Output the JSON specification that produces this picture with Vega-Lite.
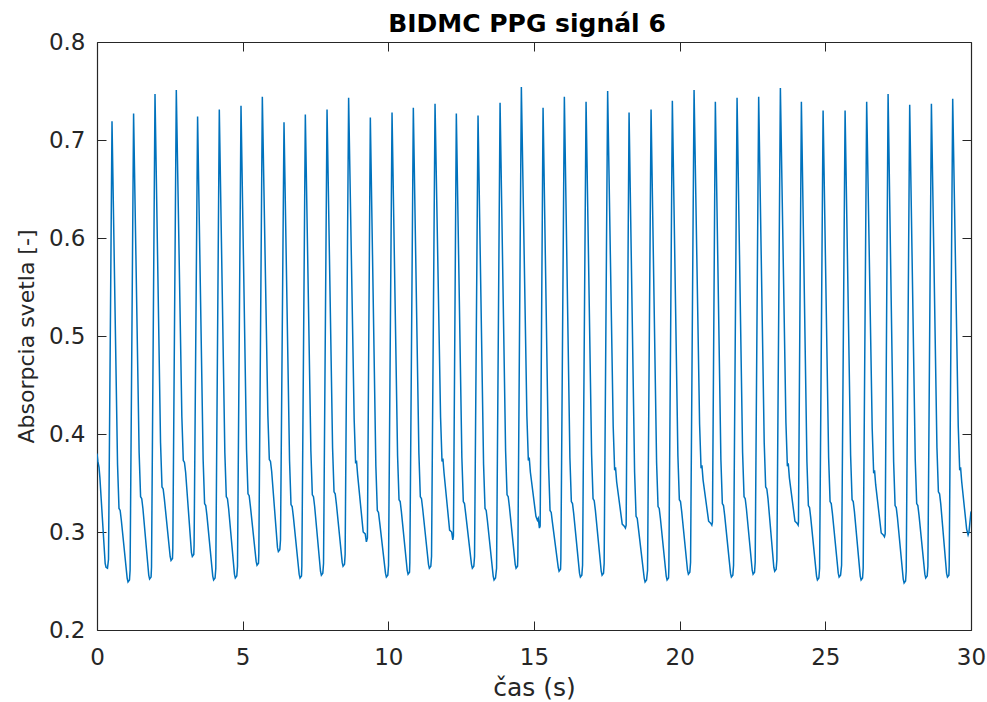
{
  "$schema": "https://vega.github.io/schema/vega-lite/v6.json",
  "width": 874,
  "height": 588,
  "autosize": "none",
  "padding": {"left": 97, "top": 42, "right": 16, "bottom": 72},
  "background": "white",
  "config": {"view": {"stroke": null}},
  "title": {"text": "BIDMC PPG signál 6", "font": "DejaVu Sans", "fontSize": 25, "fontWeight": "bold", "color": "#000000", "frame": "group", "anchor": "middle", "baseline": "alphabetic", "offset": 9, "dx": -7, "dy": 35},
  "data": {"values": [
    {"t":0,"v":0.380},{"t":0.03,"v":0.372},{"t":0.07,"v":0.366},{"t":0.10,"v":0.355},{"t":0.28,"v":0.268},{"t":0.31,"v":0.264},{"t":0.36,"v":0.263},{"t":0.395,"v":0.272},
    {"t":0.515,"v":0.719},{"t":0.705,"v":0.369},{"t":0.755,"v":0.324},{"t":0.795,"v":0.322},{"t":0.835,"v":0.312},{"t":1.035,"v":0.253},{"t":1.065,"v":0.249},{"t":1.115,"v":0.251},{"t":1.136,"v":0.261},
    {"t":1.256,"v":0.727},{"t":1.446,"v":0.381},{"t":1.496,"v":0.336},{"t":1.536,"v":0.334},{"t":1.576,"v":0.324},{"t":1.776,"v":0.256},{"t":1.806,"v":0.252},{"t":1.856,"v":0.254},{"t":1.871,"v":0.264},
    {"t":1.991,"v":0.747},{"t":2.181,"v":0.391},{"t":2.231,"v":0.346},{"t":2.271,"v":0.344},{"t":2.311,"v":0.334},{"t":2.511,"v":0.275},{"t":2.541,"v":0.271},{"t":2.591,"v":0.273},{"t":2.602,"v":0.283},
    {"t":2.722,"v":0.751},{"t":2.912,"v":0.418},{"t":2.962,"v":0.373},{"t":3.002,"v":0.371},{"t":3.042,"v":0.361},{"t":3.242,"v":0.279},{"t":3.272,"v":0.275},{"t":3.322,"v":0.277},{"t":3.333,"v":0.287},
    {"t":3.453,"v":0.724},{"t":3.643,"v":0.374},{"t":3.693,"v":0.329},{"t":3.733,"v":0.327},{"t":3.773,"v":0.317},{"t":3.973,"v":0.255},{"t":4.003,"v":0.251},{"t":4.053,"v":0.253},{"t":4.078,"v":0.263},
    {"t":4.198,"v":0.731},{"t":4.388,"v":0.381},{"t":4.438,"v":0.336},{"t":4.478,"v":0.334},{"t":4.518,"v":0.324},{"t":4.718,"v":0.257},{"t":4.748,"v":0.253},{"t":4.798,"v":0.255},{"t":4.823,"v":0.265},
    {"t":4.943,"v":0.735},{"t":5.133,"v":0.384},{"t":5.183,"v":0.339},{"t":5.223,"v":0.337},{"t":5.263,"v":0.327},{"t":5.463,"v":0.270},{"t":5.493,"v":0.266},{"t":5.543,"v":0.268},{"t":5.555,"v":0.278},
    {"t":5.675,"v":0.744},{"t":5.865,"v":0.419},{"t":5.915,"v":0.374},{"t":5.955,"v":0.372},{"t":5.995,"v":0.362},{"t":6.195,"v":0.284},{"t":6.225,"v":0.280},{"t":6.275,"v":0.282},{"t":6.299,"v":0.292},
    {"t":6.419,"v":0.718},{"t":6.609,"v":0.373},{"t":6.659,"v":0.328},{"t":6.699,"v":0.326},{"t":6.739,"v":0.316},{"t":6.939,"v":0.257},{"t":6.969,"v":0.253},{"t":7.019,"v":0.255},{"t":7.031,"v":0.265},
    {"t":7.151,"v":0.726},{"t":7.341,"v":0.383},{"t":7.391,"v":0.338},{"t":7.431,"v":0.336},{"t":7.471,"v":0.326},{"t":7.671,"v":0.260},{"t":7.701,"v":0.256},{"t":7.751,"v":0.258},{"t":7.776,"v":0.268},
    {"t":7.896,"v":0.731},{"t":8.086,"v":0.386},{"t":8.136,"v":0.341},{"t":8.176,"v":0.339},{"t":8.216,"v":0.329},{"t":8.416,"v":0.269},{"t":8.446,"v":0.265},{"t":8.496,"v":0.267},{"t":8.517,"v":0.277},
    {"t":8.637,"v":0.743},{"t":8.827,"v":0.415},{"t":8.877,"v":0.370},{"t":8.907,"v":0.373},{"t":8.947,"v":0.358},{"t":9.137,"v":0.300},{"t":9.207,"v":0.298},{"t":9.247,"v":0.290},{"t":9.282,"v":0.294},
    {"t":9.382,"v":0.723},{"t":9.572,"v":0.367},{"t":9.622,"v":0.322},{"t":9.662,"v":0.320},{"t":9.702,"v":0.310},{"t":9.902,"v":0.258},{"t":9.932,"v":0.254},{"t":9.982,"v":0.256},{"t":10.007,"v":0.266},
    {"t":10.127,"v":0.728},{"t":10.317,"v":0.378},{"t":10.367,"v":0.333},{"t":10.407,"v":0.331},{"t":10.447,"v":0.321},{"t":10.647,"v":0.261},{"t":10.677,"v":0.257},{"t":10.727,"v":0.259},{"t":10.738,"v":0.269},
    {"t":10.858,"v":0.733},{"t":11.048,"v":0.381},{"t":11.098,"v":0.336},{"t":11.138,"v":0.334},{"t":11.178,"v":0.324},{"t":11.378,"v":0.267},{"t":11.408,"v":0.263},{"t":11.458,"v":0.265},{"t":11.483,"v":0.275},
    {"t":11.603,"v":0.737},{"t":11.793,"v":0.417},{"t":11.843,"v":0.372},{"t":11.873,"v":0.375},{"t":11.913,"v":0.360},{"t":12.103,"v":0.302},{"t":12.173,"v":0.300},{"t":12.213,"v":0.292},{"t":12.234,"v":0.296},
    {"t":12.334,"v":0.727},{"t":12.524,"v":0.376},{"t":12.574,"v":0.331},{"t":12.614,"v":0.329},{"t":12.654,"v":0.319},{"t":12.854,"v":0.267},{"t":12.884,"v":0.263},{"t":12.934,"v":0.265},{"t":12.959,"v":0.275},
    {"t":13.079,"v":0.725},{"t":13.269,"v":0.369},{"t":13.319,"v":0.324},{"t":13.359,"v":0.322},{"t":13.399,"v":0.312},{"t":13.599,"v":0.255},{"t":13.629,"v":0.251},{"t":13.679,"v":0.253},{"t":13.715,"v":0.263},
    {"t":13.835,"v":0.738},{"t":14.025,"v":0.383},{"t":14.075,"v":0.338},{"t":14.115,"v":0.336},{"t":14.155,"v":0.326},{"t":14.355,"v":0.267},{"t":14.385,"v":0.263},{"t":14.435,"v":0.265},{"t":14.446,"v":0.275},
    {"t":14.566,"v":0.754},{"t":14.756,"v":0.418},{"t":14.806,"v":0.373},{"t":14.836,"v":0.376},{"t":14.876,"v":0.361},{"t":15.066,"v":0.316},{"t":15.116,"v":0.312},{"t":15.146,"v":0.314},{"t":15.186,"v":0.304},{"t":15.211,"v":0.306},
    {"t":15.311,"v":0.733},{"t":15.501,"v":0.367},{"t":15.551,"v":0.322},{"t":15.591,"v":0.320},{"t":15.631,"v":0.310},{"t":15.831,"v":0.264},{"t":15.861,"v":0.260},{"t":15.911,"v":0.262},{"t":15.922,"v":0.272},
    {"t":16.042,"v":0.744},{"t":16.232,"v":0.376},{"t":16.282,"v":0.331},{"t":16.322,"v":0.329},{"t":16.362,"v":0.319},{"t":16.562,"v":0.258},{"t":16.592,"v":0.254},{"t":16.642,"v":0.256},{"t":16.667,"v":0.266},
    {"t":16.787,"v":0.739},{"t":16.977,"v":0.379},{"t":17.027,"v":0.334},{"t":17.067,"v":0.332},{"t":17.107,"v":0.322},{"t":17.307,"v":0.260},{"t":17.337,"v":0.256},{"t":17.387,"v":0.258},{"t":17.408,"v":0.268},
    {"t":17.528,"v":0.750},{"t":17.718,"v":0.408},{"t":17.768,"v":0.363},{"t":17.798,"v":0.366},{"t":17.838,"v":0.351},{"t":18.028,"v":0.308},{"t":18.098,"v":0.306},{"t":18.138,"v":0.304},{"t":18.163,"v":0.307},
    {"t":18.263,"v":0.728},{"t":18.453,"v":0.361},{"t":18.503,"v":0.316},{"t":18.543,"v":0.314},{"t":18.583,"v":0.304},{"t":18.783,"v":0.253},{"t":18.813,"v":0.249},{"t":18.863,"v":0.251},{"t":18.898,"v":0.261},
    {"t":19.018,"v":0.731},{"t":19.208,"v":0.371},{"t":19.258,"v":0.326},{"t":19.298,"v":0.324},{"t":19.338,"v":0.314},{"t":19.538,"v":0.255},{"t":19.568,"v":0.251},{"t":19.618,"v":0.253},{"t":19.629,"v":0.263},
    {"t":19.749,"v":0.740},{"t":19.939,"v":0.378},{"t":19.989,"v":0.333},{"t":20.029,"v":0.331},{"t":20.069,"v":0.321},{"t":20.269,"v":0.261},{"t":20.299,"v":0.257},{"t":20.349,"v":0.259},{"t":20.374,"v":0.269},
    {"t":20.494,"v":0.751},{"t":20.684,"v":0.410},{"t":20.734,"v":0.365},{"t":20.764,"v":0.368},{"t":20.804,"v":0.353},{"t":20.994,"v":0.311},{"t":21.064,"v":0.309},{"t":21.104,"v":0.307},{"t":21.125,"v":0.310},
    {"t":21.225,"v":0.739},{"t":21.415,"v":0.374},{"t":21.465,"v":0.329},{"t":21.505,"v":0.327},{"t":21.545,"v":0.317},{"t":21.745,"v":0.258},{"t":21.775,"v":0.254},{"t":21.825,"v":0.256},{"t":21.850,"v":0.266},
    {"t":21.970,"v":0.743},{"t":22.160,"v":0.381},{"t":22.210,"v":0.336},{"t":22.250,"v":0.334},{"t":22.290,"v":0.324},{"t":22.490,"v":0.261},{"t":22.520,"v":0.257},{"t":22.570,"v":0.259},{"t":22.592,"v":0.269},
    {"t":22.712,"v":0.744},{"t":22.902,"v":0.391},{"t":22.952,"v":0.346},{"t":22.992,"v":0.344},{"t":23.032,"v":0.334},{"t":23.232,"v":0.264},{"t":23.262,"v":0.260},{"t":23.312,"v":0.262},{"t":23.337,"v":0.272},
    {"t":23.457,"v":0.753},{"t":23.647,"v":0.412},{"t":23.697,"v":0.367},{"t":23.727,"v":0.370},{"t":23.767,"v":0.355},{"t":23.957,"v":0.311},{"t":24.027,"v":0.309},{"t":24.067,"v":0.307},{"t":24.078,"v":0.310},
    {"t":24.178,"v":0.739},{"t":24.368,"v":0.372},{"t":24.418,"v":0.327},{"t":24.458,"v":0.325},{"t":24.498,"v":0.315},{"t":24.698,"v":0.255},{"t":24.728,"v":0.251},{"t":24.778,"v":0.253},{"t":24.803,"v":0.263},
    {"t":24.923,"v":0.730},{"t":25.113,"v":0.376},{"t":25.163,"v":0.331},{"t":25.203,"v":0.329},{"t":25.243,"v":0.319},{"t":25.443,"v":0.258},{"t":25.473,"v":0.254},{"t":25.523,"v":0.256},{"t":25.558,"v":0.266},
    {"t":25.678,"v":0.730},{"t":25.868,"v":0.378},{"t":25.918,"v":0.333},{"t":25.958,"v":0.331},{"t":25.998,"v":0.321},{"t":26.198,"v":0.255},{"t":26.228,"v":0.251},{"t":26.278,"v":0.253},{"t":26.299,"v":0.263},
    {"t":26.419,"v":0.739},{"t":26.609,"v":0.405},{"t":26.659,"v":0.360},{"t":26.689,"v":0.363},{"t":26.729,"v":0.348},{"t":26.919,"v":0.299},{"t":26.989,"v":0.297},{"t":27.029,"v":0.295},{"t":27.054,"v":0.298},
    {"t":27.154,"v":0.747},{"t":27.344,"v":0.372},{"t":27.394,"v":0.327},{"t":27.434,"v":0.325},{"t":27.474,"v":0.315},{"t":27.674,"v":0.252},{"t":27.704,"v":0.248},{"t":27.754,"v":0.250},{"t":27.776,"v":0.260},
    {"t":27.896,"v":0.736},{"t":28.086,"v":0.374},{"t":28.136,"v":0.329},{"t":28.176,"v":0.327},{"t":28.216,"v":0.317},{"t":28.416,"v":0.257},{"t":28.446,"v":0.253},{"t":28.496,"v":0.255},{"t":28.521,"v":0.265},
    {"t":28.641,"v":0.737},{"t":28.831,"v":0.386},{"t":28.881,"v":0.341},{"t":28.921,"v":0.339},{"t":28.961,"v":0.329},{"t":29.161,"v":0.258},{"t":29.191,"v":0.254},{"t":29.241,"v":0.256},{"t":29.252,"v":0.266},
    {"t":29.372,"v":0.742},{"t":29.562,"v":0.408},{"t":29.612,"v":0.363},{"t":29.642,"v":0.366},{"t":29.682,"v":0.351},{"t":29.850,"v":0.303},{"t":29.900,"v":0.297},{"t":29.930,"v":0.300},{"t":30.000,"v":0.321}
  ]},
  "layer": [
    {
      "mark": {"type": "line", "color": "#0072BD", "strokeWidth": 1.5, "clip": true},
      "encoding": {
        "x": {"field": "t", "type": "quantitative",
              "scale": {"domain": [0, 30], "nice": false, "zero": false},
              "axis": {"orient": "bottom", "values": [0,5,10,15,20,25,30], "format": "d", "title": "čas (s)",
                       "grid": false, "domainColor": "#262626", "domainWidth": 1.2, "tickColor": "#262626", "tickSize": -9, "tickWidth": 1,
                       "labelFont": "DejaVu Sans", "labelFontSize": 23, "labelColor": "#262626", "labelPadding": 25, "labelFlush": false, "labelOverlap": false,
                       "titleFont": "DejaVu Sans", "titleFontSize": 25, "titleFontWeight": "normal", "titleColor": "#262626",
                       "titleX": 437, "titleY": 65, "titleBaseline": "alphabetic", "titleAnchor": "middle", "titleAlign": "center"}},
        "y": {"field": "v", "type": "quantitative",
              "scale": {"domain": [0.2, 0.8], "nice": false, "zero": false},
              "axis": {"orient": "left", "values": [0.2,0.3,0.4,0.5,0.6,0.7,0.8], "format": ".1f", "title": "Absorpcia svetla [-]",
                       "grid": false, "domainColor": "#262626", "domainWidth": 1.2, "tickColor": "#262626", "tickSize": -9, "tickWidth": 1,
                       "labelFont": "DejaVu Sans", "labelFontSize": 23, "labelColor": "#262626", "labelPadding": 21, "labelFlush": false, "labelOverlap": false,
                       "titleFont": "DejaVu Sans", "titleFontSize": 22, "titleFontWeight": "normal", "titleColor": "#262626",
                       "titleX": -64, "titleY": 294, "titleAngle": -90, "titleBaseline": "alphabetic", "titleAlign": "center"}}
      }
    },
    {
      "mark": {"type": "line", "strokeOpacity": 0},
      "encoding": {
        "x": {"field": "t", "type": "quantitative",
              "axis": {"orient": "top", "values": [0,5,10,15,20,25,30], "labels": false, "title": null, "grid": false, "minExtent": 0, "maxExtent": 0,
                       "domainColor": "#262626", "domainWidth": 1.2, "tickColor": "#262626", "tickSize": -9, "tickWidth": 1}},
        "y": {"field": "v", "type": "quantitative",
              "axis": {"orient": "right", "values": [0.2,0.3,0.4,0.5,0.6,0.7,0.8], "labels": false, "title": null, "grid": false, "minExtent": 0, "maxExtent": 0,
                       "domainColor": "#262626", "domainWidth": 1.2, "tickColor": "#262626", "tickSize": -9, "tickWidth": 1}}
      }
    }
  ],
  "resolve": {"axis": {"x": "independent", "y": "independent"}}
}
